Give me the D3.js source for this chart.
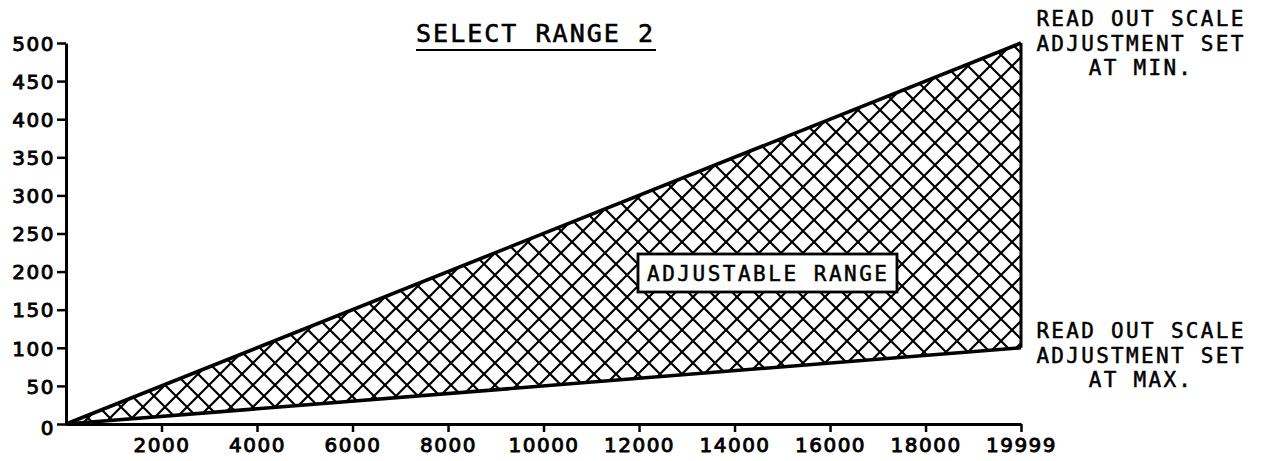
<!DOCTYPE html>
<meta charset="utf-8">
<script src="https://d3js.org/d3.v7.min.js"></script>
<style>
  body { margin: 0; background: #fff; }
  svg { display: block; }
</style>
<div id="chart"></div>
<script>
// data
var xDomain = [0, 19999];
var yDomain = [0, 500];
var xTicks = [2000, 4000, 6000, 8000, 10000, 12000, 14000, 16000, 18000, 19999];
var yTicks = [0, 50, 100, 150, 200, 250, 300, 350, 400, 450, 500];
// read out scale adjustment set at min -> upper edge, at max -> lower edge
var minLine = [[0, 0], [19999, 500]];
var maxLine = [[0, 0], [19999, 100]];
var title = "SELECT RANGE 2";
var areaLabel = "ADJUSTABLE RANGE";
var minNote = ["READ OUT SCALE", "ADJUSTMENT SET", "AT MIN."];
var maxNote = ["READ OUT SCALE", "ADJUSTMENT SET", "AT MAX."];

var width = 1263, height = 461;

var svg = d3.select("#chart").append("svg")
    .attr("width", width)
    .attr("height", height);

var x = d3.scaleLinear().domain(xDomain).range([66, 1021]);
var y = d3.scaleLinear().domain(yDomain).range([424, 43]);

// crosshatch pattern
var pat = svg.append("defs").append("pattern")
    .attr("id", "hatch")
    .attr("patternUnits", "userSpaceOnUse")
    .attr("width", 22).attr("height", 22);
pat.append("path")
    .attr("d", "M-2,-2L24,24M-2,24L24,-2M-13,9L9,31M13,-13L35,9M9,-13L-13,9M35,13L13,35")
    .attr("stroke", "#000").attr("stroke-width", 2.2).attr("fill", "none");

// hatched region between the two settings
var poly = minLine.concat(maxLine.slice().reverse());
svg.append("path")
    .attr("d", d3.line().x(d => x(d[0])).y(d => y(d[1]))(poly) + "Z")
    .attr("fill", "url(#hatch)")
    .attr("stroke", "none");

// edges
var line = d3.line().x(d => x(d[0])).y(d => y(d[1]));
svg.append("path").attr("d", line(minLine))
    .attr("fill", "none").attr("stroke", "#000").attr("stroke-width", 3.6);
svg.append("path").attr("d", line(maxLine))
    .attr("fill", "none").attr("stroke", "#000").attr("stroke-width", 3.6);
svg.append("path").attr("d", line([[19999, 100], [19999, 500]]))
    .attr("fill", "none").attr("stroke", "#000").attr("stroke-width", 3);

// axes
var xAxis = svg.append("g")
    .attr("transform", "translate(0," + y(0) + ")")
    .call(d3.axisBottom(x).tickValues(xTicks).tickSize(8).tickSizeOuter(0).tickFormat(d3.format("d")));
var yAxis = svg.append("g")
    .attr("transform", "translate(" + x(0) + ",0)")
    .call(d3.axisLeft(y).tickValues(yTicks).tickSize(9).tickSizeOuter(0).tickFormat(d3.format("d")));

[xAxis, yAxis].forEach(function (g) {
  g.select(".domain").attr("stroke", "#000").attr("stroke-width", 3);
  g.selectAll(".tick line").attr("stroke", "#000").attr("stroke-width", 2.5);
  g.selectAll(".tick text")
      .attr("fill", "#000")
      .attr("stroke", "#000").attr("stroke-width", 0.9)
      .style("font-family", "'DejaVu Sans', sans-serif")
      .style("font-size", "20px")
      .style("letter-spacing", "1.5px");
});
xAxis.selectAll(".tick text").attr("dy", "1.1em").attr("y", 6);
yAxis.selectAll(".tick text").attr("x", -11).attr("dy", "0.36em");
yAxis.selectAll(".tick").filter(d => d === 0).select("text").attr("dy", "0.5em");

var mono = "'DejaVu Sans Mono', monospace";

// title with underline
svg.append("text")
    .attr("x", 416).attr("y", 42)
    .attr("textLength", 237).attr("lengthAdjust", "spacing")
    .attr("stroke", "#000").attr("stroke-width", 0.6)
    .style("font-family", mono).style("font-size", "25px")
    .text(title);
svg.append("line")
    .attr("x1", 416).attr("x2", 656).attr("y1", 50).attr("y2", 50)
    .attr("stroke", "#000").attr("stroke-width", 2.2);

// label box
var bx = 638, by = 254, bw = 259, bh = 38;
svg.append("rect")
    .attr("x", bx).attr("y", by).attr("width", bw).attr("height", bh)
    .attr("fill", "#fff").attr("stroke", "#000").attr("stroke-width", 2.8);
svg.append("text")
    .attr("x", 647).attr("y", by + bh / 2 + 7.5)
    .attr("textLength", 240).attr("lengthAdjust", "spacing")
    .attr("stroke", "#000").attr("stroke-width", 0.5)
    .style("font-family", mono).style("font-size", "21px")
    .text(areaLabel);

// side notes
function note(lines, top) {
  svg.append("g").selectAll("text").data(lines).join("text")
      .attr("x", 1141)
      .attr("y", (d, i) => top + i * 24.5)
      .attr("text-anchor", "middle")
      .attr("stroke", "#000").attr("stroke-width", 0.5)
      .style("font-family", mono).style("font-size", "21px")
      .style("letter-spacing", "2.3px")
      .text(d => d);
}
note(minNote, 26);
note(maxNote, 338);
</script>
